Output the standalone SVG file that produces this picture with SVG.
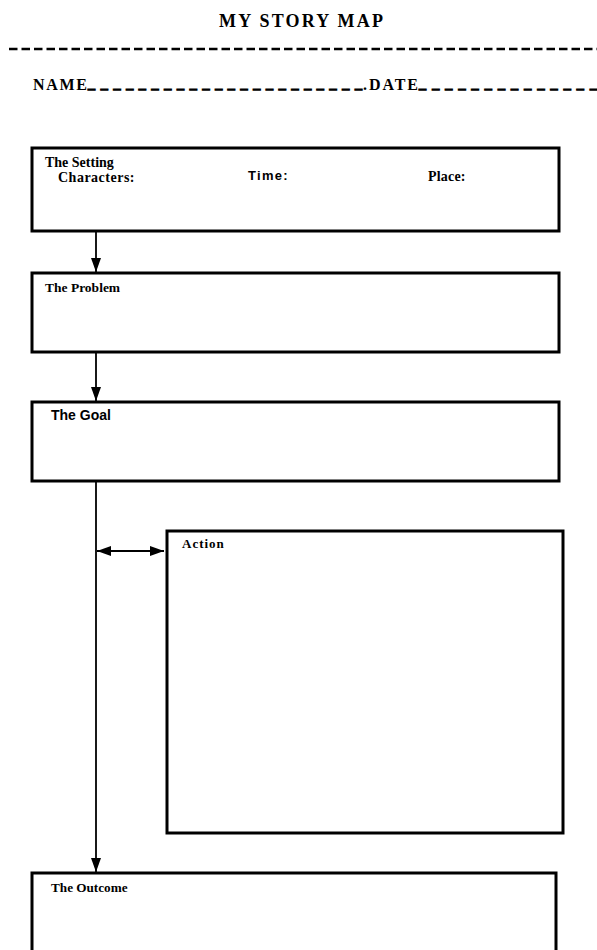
<svg xmlns="http://www.w3.org/2000/svg" width="597" height="950" viewBox="0 0 597 950">
  <style>
    .box { fill: #fff; stroke: #000; stroke-width: 3; }
    .serif { font-family: "Liberation Serif", "Times New Roman", serif; font-weight: bold; fill: #000; }
    .sans { font-family: "Liberation Sans", Arial, sans-serif; font-weight: bold; fill: #000; }
    .under { font-family: "Liberation Serif", "Times New Roman", serif; font-weight: bold; font-size: 14px; fill: #000; stroke: #000; stroke-width: 1.2; }
    .conn { stroke: #000; stroke-width: 1.8; fill: none; }
  </style>
  <defs>
    <marker id="arrow" markerUnits="userSpaceOnUse" markerWidth="15" markerHeight="11" refX="14" refY="5" orient="auto-start-reverse">
      <path d="M0,0 L14,5 L0,10 z" fill="#000"/>
    </marker>
  </defs>
  <rect width="597" height="950" fill="#fff"/>

  <g id="header">
    <text class="serif" x="219" y="27" font-size="18" textLength="164" lengthAdjust="spacing">MY STORY MAP</text>
    <line x1="9" y1="49" x2="597" y2="49" stroke="#000" stroke-width="2.4" stroke-dasharray="8.5 4"/>
    <text class="serif" x="33" y="90" font-size="16" textLength="54" lengthAdjust="spacing">NAME</text>
    <text class="under" x="88" y="87.5" textLength="274" lengthAdjust="spacing">______________________</text>
    <text class="serif" x="363" y="90" font-size="16" textLength="55" lengthAdjust="spacing">.DATE</text>
    <text class="under" x="419" y="87.5" textLength="178" lengthAdjust="spacing">______________</text>
  </g>

  <g id="connectors">
    <line class="conn" x1="96" y1="231" x2="96" y2="272" marker-end="url(#arrow)"/>
    <line class="conn" x1="96" y1="352" x2="96" y2="401" marker-end="url(#arrow)"/>
    <line class="conn" x1="96" y1="481" x2="96" y2="872" marker-end="url(#arrow)"/>
    <line class="conn" x1="97" y1="551" x2="164" y2="551" marker-start="url(#arrow)" marker-end="url(#arrow)"/>
  </g>

  <g id="setting">
    <rect class="box" x="32" y="148" width="527" height="83"/>
    <text class="serif" x="45" y="167" font-size="14">The Setting</text>
    <text class="serif" x="58" y="182" font-size="14" letter-spacing="0.5">Characters:</text>
    <text class="sans" x="248" y="180" font-size="13" letter-spacing="1.3">Time:</text>
    <text class="serif" x="428" y="181" font-size="14" letter-spacing="0.2">Place:</text>
  </g>

  <g id="problem">
    <rect class="box" x="32" y="273" width="527" height="79"/>
    <text class="serif" x="45" y="292" font-size="13.5">The Problem</text>
  </g>

  <g id="goal">
    <rect class="box" x="32" y="402" width="527" height="79"/>
    <text class="sans" x="51" y="420" font-size="14">The Goal</text>
  </g>

  <g id="action">
    <rect class="box" x="167" y="531" width="396" height="302"/>
    <text class="serif" x="182" y="548" font-size="13" letter-spacing="1">Action</text>
  </g>

  <g id="outcome">
    <rect class="box" x="32" y="873" width="524" height="90"/>
    <text class="serif" x="51" y="892" font-size="13.2">The Outcome</text>
  </g>
</svg>
